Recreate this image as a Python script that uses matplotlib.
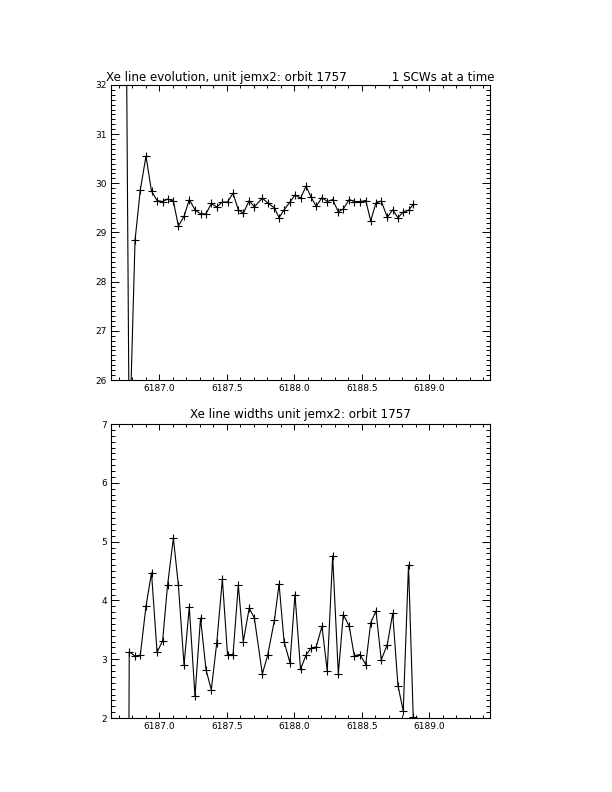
import numpy as np
import matplotlib.pyplot as plt
from matplotlib.ticker import MultipleLocator, FormatStrFormatter

# time (days), one point per science window
time = [6186.736, 6186.777, 6186.820, 6186.859, 6186.901, 6186.942, 6186.983, 6187.024,
        6187.061, 6187.104, 6187.141, 6187.183, 6187.222, 6187.264, 6187.305, 6187.346,
        6187.385, 6187.425, 6187.467, 6187.505, 6187.546, 6187.585, 6187.622, 6187.666,
        6187.704, 6187.763, 6187.803, 6187.853, 6187.887, 6187.924, 6187.968, 6188.005,
        6188.046, 6188.087, 6188.124, 6188.162, 6188.205, 6188.244, 6188.284, 6188.326,
        6188.363, 6188.407, 6188.444, 6188.487, 6188.529, 6188.566, 6188.605, 6188.644,
        6188.689, 6188.729, 6188.768, 6188.807, 6188.846, 6188.881]

# Xe line position
energy = [41.0, 24.6, 28.84, 29.87, 30.55, 29.84, 29.65, 29.63,
          29.68, 29.64, 29.13, 29.33, 29.67, 29.46, 29.38, 29.38,
          29.59, 29.52, 29.62, 29.62, 29.80, 29.46, 29.39, 29.65,
          29.52, 29.70, 29.60, 29.50, 29.30, 29.46, 29.62, 29.76,
          29.70, 29.94, 29.72, 29.53, 29.71, 29.63, 29.67, 29.42,
          29.48, 29.67, 29.63, 29.63, 29.65, 29.24, 29.60, 29.64,
          29.31, 29.46, 29.30, 29.42, 29.45, 29.57]

# Xe line width
width = [-20.0, 3.13, 3.05, 3.07, 3.90, 4.47, 3.12, 3.31,
         4.26, 5.06, 4.26, 2.90, 3.89, 2.37, 3.70, 2.82,
         2.48, 3.27, 4.36, 3.08, 3.08, 4.26, 3.30, 3.87,
         3.70, 2.75, 3.07, 3.67, 4.28, 3.30, 2.94, 4.10,
         2.83, 3.07, 3.19, 3.21, 3.56, 2.80, 4.76, 2.75,
         3.76, 3.56, 3.06, 3.08, 2.91, 3.62, 3.82, 2.99,
         3.25, 3.78, 2.55, 2.12, 4.60, 2.02]

fig = plt.figure(figsize=(6.12, 7.92), dpi=100)
ax1 = fig.add_axes([0.1814, 0.5202, 0.6193, 0.3725])
ax2 = fig.add_axes([0.1814, 0.0934, 0.6193, 0.3712])

ax1.plot(time, energy, 'k-+', lw=0.8, ms=5.5, mew=0.8)
ax1.set_ylim(26, 32)
ax1.set_title('Xe line evolution, unit jemx2: orbit 1757            1 SCWs at a time',
              fontsize=8.6, pad=3)

ax2.plot(time, width, 'k-+', lw=0.8, ms=5.5, mew=0.8)
ax2.set_ylim(2, 7)
ax2.set_title('Xe line widths unit jemx2: orbit 1757', fontsize=8.6, pad=4)

for ax in (ax1, ax2):
    ax.set_xlim(6186.642, 6189.45)
    ax.xaxis.set_major_locator(MultipleLocator(0.5))
    ax.xaxis.set_minor_locator(MultipleLocator(0.1))
    ax.xaxis.set_major_formatter(FormatStrFormatter('%.1f'))
    ax.yaxis.set_major_locator(MultipleLocator(1))
    ax.yaxis.set_minor_locator(MultipleLocator(0.1))
    ax.tick_params(which='both', direction='in', top=True, right=True,
                   labelsize=6.5, width=0.7)
    ax.tick_params(axis='x', which='major', length=4.3, pad=3)
    ax.tick_params(axis='x', which='minor', length=2.2)
    ax.tick_params(axis='y', which='major', length=5.5, pad=3)
    ax.tick_params(axis='y', which='minor', length=2.7)
    for s in ax.spines.values():
        s.set_linewidth(0.8)

fig.savefig('out.png', dpi=100)
